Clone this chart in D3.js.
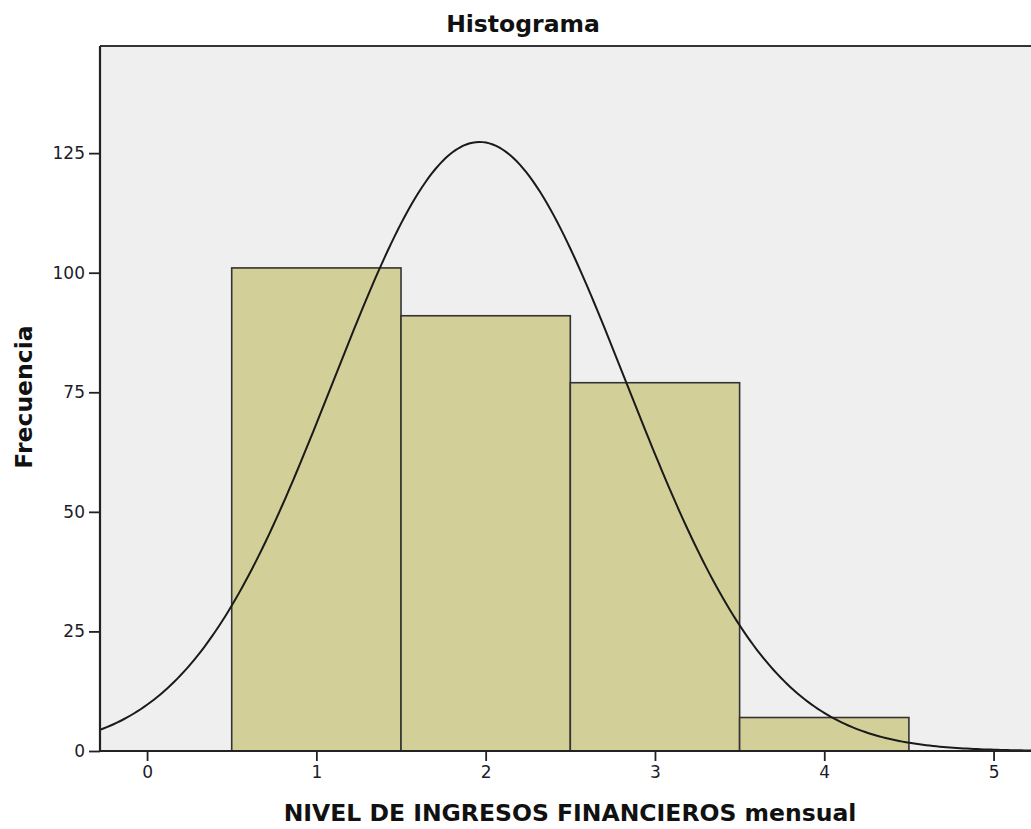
<!DOCTYPE html>
<html>
<head>
<meta charset="utf-8">
<script src="https://cdn.jsdelivr.net/npm/d3@7"></script>
<style>
  body { margin: 0; background: #fff; }
  svg { display: block; font-family: "DejaVu Sans", Verdana, sans-serif; }
</style>
</head>
<body>
<svg id="chart" width="1031" height="829"></svg>
<script>
// histogram bins (centre value) and frequencies
const binCenters = [1, 2, 3, 4];
const counts = [101, 91, 77, 7];
const xTicks = [0, 1, 2, 3, 4, 5];
const yTicks = [0, 25, 50, 75, 100, 125];

const width = 1031;
const height = 829;
const marginLeft = 100;
const marginTop = 46;
const marginBottom = 78;
const plotRight = 1045;

const svg = d3.select("#chart");

const xScale = d3.scaleLinear().domain([-0.278, 5.3]).range([marginLeft, marginLeft + (5.3 + 0.278) * 169.3]);
const yScale = d3.scaleLinear().domain([0, 147.4]).range([height - marginBottom, marginTop]);

// background
svg.append("rect")
  .attr("x", marginLeft)
  .attr("y", marginTop)
  .attr("width", plotRight - marginLeft)
  .attr("height", height - marginBottom - marginTop)
  .attr("fill", "#efefef");

// bars
const bars = binCenters.map((c, i) => ({ x0: c - 0.5, x1: c + 0.5, n: counts[i] }));
svg.append("g")
  .selectAll("rect")
  .data(bars)
  .enter()
  .append("rect")
  .attr("x", (d) => xScale(d.x0))
  .attr("y", (d) => yScale(d.n))
  .attr("width", (d) => xScale(d.x1) - xScale(d.x0))
  .attr("height", (d) => yScale(0) - yScale(d.n))
  .attr("fill", "#d3cf98")
  .attr("stroke", "#333")
  .attr("stroke-width", 1.6);

// normal curve fitted to the binned data
const N = d3.sum(counts);
const mean = d3.sum(binCenters, (c, i) => c * counts[i]) / N;
const sd = Math.sqrt(d3.sum(binCenters, (c, i) => counts[i] * (c - mean) ** 2) / (N - 1));
const curvePts = d3.range(-0.278, 5.35, 0.02).map((x) => ({
  x,
  y: (N * 1) / (sd * Math.sqrt(2 * Math.PI)) * Math.exp(-((x - mean) ** 2) / (2 * sd * sd)),
}));
const lineFunc = d3.line().x((d) => xScale(d.x)).y((d) => yScale(d.y));
svg.append("path")
  .datum(curvePts)
  .attr("fill", "none")
  .attr("stroke", "#1a1a1a")
  .attr("stroke-width", 2)
  .attr("d", lineFunc);

// frame line on top
svg.append("line")
  .attr("x1", marginLeft).attr("x2", plotRight)
  .attr("y1", marginTop).attr("y2", marginTop)
  .attr("stroke", "#333").attr("stroke-width", 2);

const xAxis = d3.axisBottom(xScale).tickValues(xTicks).tickSize(10).tickPadding(5).tickSizeOuter(0).tickFormat(d3.format("d"));
const yAxis = d3.axisLeft(yScale).tickValues(yTicks).tickSize(11).tickPadding(4).tickSizeOuter(0).tickFormat(d3.format("d"));

const gx = svg.append("g")
  .attr("transform", `translate(0, ${height - marginBottom})`)
  .call(xAxis);
const gy = svg.append("g")
  .attr("transform", `translate(${marginLeft}, 0)`)
  .call(yAxis);

[gx, gy].forEach((g) => {
  g.select(".domain").attr("stroke", "#222").attr("stroke-width", 2.2);
  g.selectAll(".tick line").attr("stroke", "#222").attr("stroke-width", 1.8);
  g.selectAll("text")
    .attr("fill", "#1c1c2a")
    .attr("font-size", "17px")
    .attr("font-family", "DejaVu Sans, Verdana, sans-serif");
});
gx.select(".domain").attr("d", `M${marginLeft},0H${plotRight}`);
gy.select(".domain").attr("d", `M0,${marginTop}V${height - marginBottom}`);

// titles
svg.append("text")
  .attr("x", 523)
  .attr("y", 32)
  .attr("text-anchor", "middle")
  .attr("font-size", "23.5px")
  .attr("font-weight", "bold")
  .attr("fill", "#111")
  .text("Histograma");

svg.append("text")
  .attr("x", 570)
  .attr("y", 821)
  .attr("text-anchor", "middle")
  .attr("font-size", "23.5px")
  .attr("font-weight", "bold")
  .attr("fill", "#111")
  .text("NIVEL DE INGRESOS FINANCIEROS mensual");

svg.append("text")
  .attr("transform", "translate(32, 397) rotate(-90)")
  .attr("text-anchor", "middle")
  .attr("font-size", "23.5px")
  .attr("font-weight", "bold")
  .attr("fill", "#111")
  .text("Frecuencia");
</script>
</body>
</html>
